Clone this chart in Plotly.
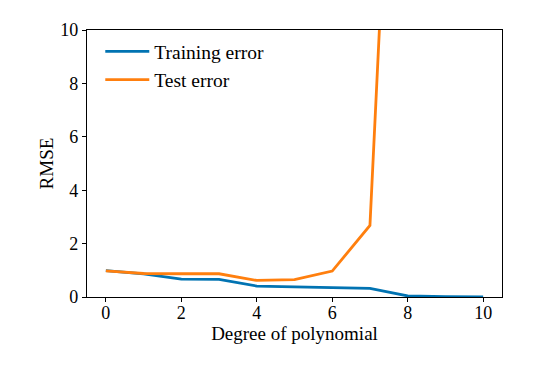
import plotly.graph_objects as go

degrees = [0, 1, 2, 3, 4, 5, 6, 7, 8, 9, 10]
train_rmse = [0.99, 0.87, 0.67, 0.66, 0.41, 0.39, 0.35, 0.32, 0.04, 0.01, 0.0]
test_rmse = [0.98, 0.88, 0.87, 0.87, 0.62, 0.65, 0.97, 2.68, 32.0, 120.0, 400.0]
x_ticks = [0, 2, 4, 6, 8, 10]
y_ticks = [0, 2, 4, 6, 8, 10]

FONT = "Liberation Serif"

fig = go.Figure()
fig.add_trace(go.Scatter(x=degrees, y=train_rmse, mode="lines", name="Training error",
                         line=dict(color="#0173B2", width=2.8)))
fig.add_trace(go.Scatter(x=degrees, y=test_rmse, mode="lines", name="Test error",
                         line=dict(color="#FF7F0E", width=2.8)))

axis_common = dict(showline=True, linecolor="black", linewidth=1.2, mirror=True,
                   ticks="outside", ticklen=4, tickcolor="black", showgrid=False,
                   zeroline=False, tickfont=dict(family=FONT, size=18, color="black"))

fig.update_layout(
    width=549, height=363,
    margin=dict(l=79, r=55, t=20, b=74),
    paper_bgcolor="white", plot_bgcolor="white",
    font=dict(family=FONT, size=18, color="black"),
    xaxis=dict(range=[-0.5, 10.5], tickvals=x_ticks, ticklabelstandoff=-5,
               title=dict(text="Degree of polynomial", font=dict(family=FONT, size=19), standoff=0),
               **axis_common),
    yaxis=dict(range=[0, 10], tickvals=y_ticks, ticklabelstandoff=0,
               title=dict(text="RMSE", font=dict(family=FONT, size=19), standoff=1),
               **axis_common),
    legend=dict(x=0.032, y=0.992, xanchor="left", yanchor="top", bgcolor="rgba(0,0,0,0)",
                font=dict(family=FONT, size=19.5), itemwidth=44, tracegroupgap=4),
    showlegend=True,
)

fig.write_html("out.html")
